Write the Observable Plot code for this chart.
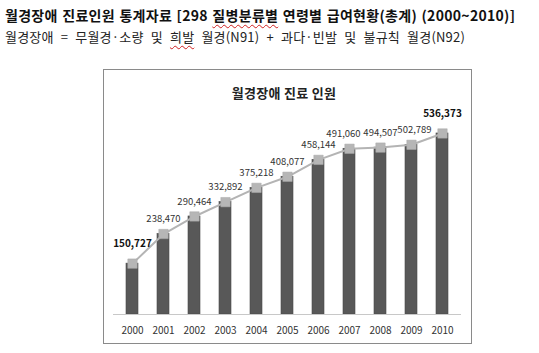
<!DOCTYPE html>
<html><head><meta charset="utf-8">
<script src="https://cdn.jsdelivr.net/npm/d3@7"></script>
<script src="https://cdn.jsdelivr.net/npm/@observablehq/plot@0.6"></script>
<style>
html,body{margin:0;padding:0;background:#fff;width:539px;height:353px;overflow:hidden;font-family:"Noto Sans CJK KR","Noto Sans",sans-serif;}
#h1{position:absolute;left:5px;top:5px;font-size:14px;font-weight:bold;color:#111;white-space:nowrap;letter-spacing:0.3px;word-spacing:1px}
#h2{position:absolute;left:5px;top:27px;font-size:13px;color:#222;white-space:nowrap;letter-spacing:0.2px;word-spacing:4px}
.sp{text-decoration:underline wavy #d02020;text-decoration-thickness:1px;text-underline-offset:3px}
#box{position:absolute;left:103px;top:69px;width:367px;height:273px;border:1px solid #8a8a8a;}
#ct{position:absolute;left:0;width:360px;top:13px;text-align:center;font-size:13px;font-weight:bold;color:#222;letter-spacing:0.3px}
#chart{position:absolute;left:0;top:0}
</style></head>
<body>
<div id="h1">월경장애 진료인원 통계자료 [298 <span class="sp">질병분류별</span> 연령별 급여현황(총계) (2000~2010)]</div>
<div id="h2">월경장애 = 무월경·소량 및 <span class="sp">희발</span> 월경(N91) + 과다·빈발 및 불규칙 월경(N92)</div>
<div id="box"><div id="chart"></div><div id="ct">월경장애 진료 인원</div></div>
<script>
const years = ["2000","2001","2002","2003","2004","2005","2006","2007","2008","2009","2010"];
const patients = [150727,238470,290464,332892,375218,408077,458144,491060,494507,502789,536373];
const boldYears = ["2000","2010"];
const data = years.map((y,i)=>({year:y, value:patients[i], bold:boldYears.includes(y)}));
const fmt = d3.format(",");
const lab = {fontSize:9.5, fill:"#333", letterSpacing:"-0.6px"};
const plain = data.filter(d=>!d.bold);
const plot = Plot.plot({
  width:367, height:273,
  marginLeft:9, marginRight:10, marginTop:41.5, marginBottom:29,
  style:{fontFamily:'"Noto Sans CJK KR","Noto Sans",sans-serif', background:"transparent"},
  x:{domain:years, type:"band", paddingInner:0.6, paddingOuter:0.3, label:null},
  y:{domain:[0,600000], axis:null},
  marks:[
    Plot.barY(data,{x:"year", y:"value", fill:"#585858", stroke:"#4a4a4a", strokeWidth:0.6}),
    Plot.ruleY([0],{stroke:"#c8c8c8", strokeWidth:1.2}),
    Plot.line(data,{x:"year", y:"value", stroke:"#b4b4b4", strokeWidth:2}),
    Plot.dot(data,{x:"year", y:"value", symbol:"square", r:5.3, fill:"#b6b6b6", stroke:"#a8a8a8", strokeWidth:0.5}),
    Plot.text(plain.filter(d=>d.year!=="2007" && d.year!=="2009"),{x:"year", y:"value", text:d=>fmt(d.value), dy:-15, ...lab}),
    Plot.text(plain.filter(d=>d.year==="2007"),{x:"year", y:"value", text:d=>fmt(d.value), dy:-15, dx:-6, ...lab}),
    Plot.text(plain.filter(d=>d.year==="2009"),{x:"year", y:"value", text:d=>fmt(d.value), dy:-15, dx:3, ...lab}),
    Plot.text(data.filter(d=>d.bold),{x:"year", y:"value", text:d=>fmt(d.value), dy:-20, fontSize:10, fontWeight:"bold", fill:"#111", letterSpacing:"-0.2px"}),
    Plot.axisX({tickSize:0, tickPadding:12, fontSize:10, color:"#333", label:null})
  ]
});
document.getElementById("chart").appendChild(plot);
</script>
</body></html>
